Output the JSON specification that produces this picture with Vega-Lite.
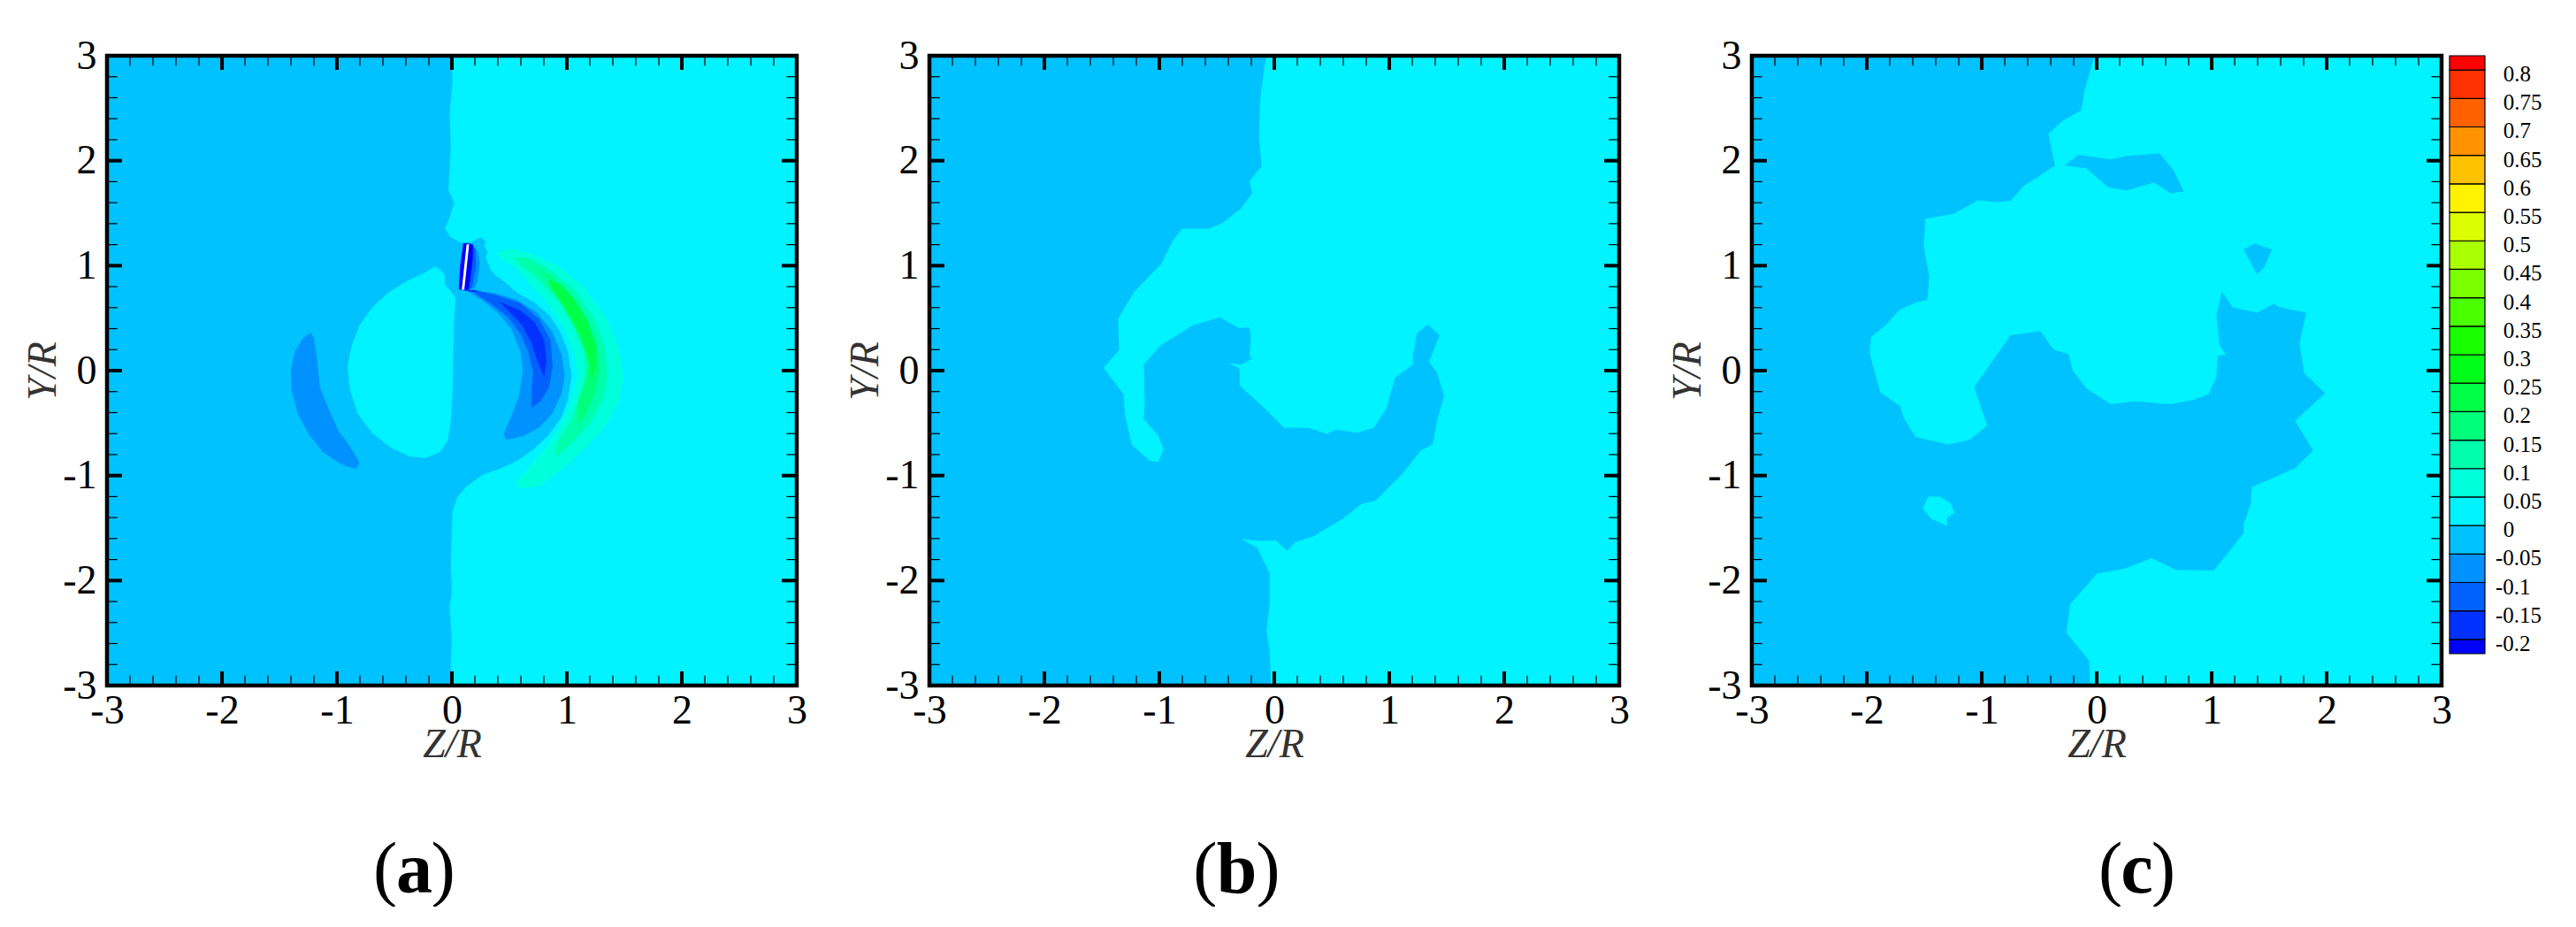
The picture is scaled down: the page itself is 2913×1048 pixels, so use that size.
{
  "$schema": "https://vega.github.io/schema/vega-lite/v6.json",
  "background": "white",
  "padding": {"left": 25, "top": 40, "right": 0, "bottom": 0},
  "datasets": {
    "ticks": [
      {"k":"M","z":-2,"z2":-2,"y":-3,"y2":-2.865},{"k":"M","z":-1,"z2":-1,"y":-3,"y2":-2.865},{"k":"M","z":0,"z2":0,"y":-3,"y2":-2.865},{"k":"M","z":1,"z2":1,"y":-3,"y2":-2.865},{"k":"M","z":2,"z2":2,"y":-3,"y2":-2.865},
      {"k":"M","z":-2,"z2":-2,"y":3,"y2":2.865},{"k":"M","z":-1,"z2":-1,"y":3,"y2":2.865},{"k":"M","z":0,"z2":0,"y":3,"y2":2.865},{"k":"M","z":1,"z2":1,"y":3,"y2":2.865},{"k":"M","z":2,"z2":2,"y":3,"y2":2.865},
      {"k":"M","y":-2,"y2":-2,"z":-3,"z2":-2.87},{"k":"M","y":-1,"y2":-1,"z":-3,"z2":-2.87},{"k":"M","y":0,"y2":0,"z":-3,"z2":-2.87},{"k":"M","y":1,"y2":1,"z":-3,"z2":-2.87},{"k":"M","y":2,"y2":2,"z":-3,"z2":-2.87},
      {"k":"M","y":-2,"y2":-2,"z":3,"z2":2.87},{"k":"M","y":-1,"y2":-1,"z":3,"z2":2.87},{"k":"M","y":0,"y2":0,"z":3,"z2":2.87},{"k":"M","y":1,"y2":1,"z":3,"z2":2.87},{"k":"M","y":2,"y2":2,"z":3,"z2":2.87},
      {"k":"m","z":-2.8,"z2":-2.8,"y":-3,"y2":-2.905},{"k":"m","z":-2.6,"z2":-2.6,"y":-3,"y2":-2.905},{"k":"m","z":-2.4,"z2":-2.4,"y":-3,"y2":-2.905},{"k":"m","z":-2.2,"z2":-2.2,"y":-3,"y2":-2.905},{"k":"m","z":-1.8,"z2":-1.8,"y":-3,"y2":-2.905},{"k":"m","z":-1.6,"z2":-1.6,"y":-3,"y2":-2.905},{"k":"m","z":-1.4,"z2":-1.4,"y":-3,"y2":-2.905},{"k":"m","z":-1.2,"z2":-1.2,"y":-3,"y2":-2.905},{"k":"m","z":-0.8,"z2":-0.8,"y":-3,"y2":-2.905},{"k":"m","z":-0.6,"z2":-0.6,"y":-3,"y2":-2.905},{"k":"m","z":-0.4,"z2":-0.4,"y":-3,"y2":-2.905},{"k":"m","z":-0.2,"z2":-0.2,"y":-3,"y2":-2.905},
      {"k":"m","z":0.2,"z2":0.2,"y":-3,"y2":-2.905},{"k":"m","z":0.4,"z2":0.4,"y":-3,"y2":-2.905},{"k":"m","z":0.6,"z2":0.6,"y":-3,"y2":-2.905},{"k":"m","z":0.8,"z2":0.8,"y":-3,"y2":-2.905},{"k":"m","z":1.2,"z2":1.2,"y":-3,"y2":-2.905},{"k":"m","z":1.4,"z2":1.4,"y":-3,"y2":-2.905},{"k":"m","z":1.6,"z2":1.6,"y":-3,"y2":-2.905},{"k":"m","z":1.8,"z2":1.8,"y":-3,"y2":-2.905},{"k":"m","z":2.2,"z2":2.2,"y":-3,"y2":-2.905},{"k":"m","z":2.4,"z2":2.4,"y":-3,"y2":-2.905},{"k":"m","z":2.6,"z2":2.6,"y":-3,"y2":-2.905},{"k":"m","z":2.8,"z2":2.8,"y":-3,"y2":-2.905},
      {"k":"m","z":-2.8,"z2":-2.8,"y":3,"y2":2.905},{"k":"m","z":-2.6,"z2":-2.6,"y":3,"y2":2.905},{"k":"m","z":-2.4,"z2":-2.4,"y":3,"y2":2.905},{"k":"m","z":-2.2,"z2":-2.2,"y":3,"y2":2.905},{"k":"m","z":-1.8,"z2":-1.8,"y":3,"y2":2.905},{"k":"m","z":-1.6,"z2":-1.6,"y":3,"y2":2.905},{"k":"m","z":-1.4,"z2":-1.4,"y":3,"y2":2.905},{"k":"m","z":-1.2,"z2":-1.2,"y":3,"y2":2.905},{"k":"m","z":-0.8,"z2":-0.8,"y":3,"y2":2.905},{"k":"m","z":-0.6,"z2":-0.6,"y":3,"y2":2.905},{"k":"m","z":-0.4,"z2":-0.4,"y":3,"y2":2.905},{"k":"m","z":-0.2,"z2":-0.2,"y":3,"y2":2.905},
      {"k":"m","z":0.2,"z2":0.2,"y":3,"y2":2.905},{"k":"m","z":0.4,"z2":0.4,"y":3,"y2":2.905},{"k":"m","z":0.6,"z2":0.6,"y":3,"y2":2.905},{"k":"m","z":0.8,"z2":0.8,"y":3,"y2":2.905},{"k":"m","z":1.2,"z2":1.2,"y":3,"y2":2.905},{"k":"m","z":1.4,"z2":1.4,"y":3,"y2":2.905},{"k":"m","z":1.6,"z2":1.6,"y":3,"y2":2.905},{"k":"m","z":1.8,"z2":1.8,"y":3,"y2":2.905},{"k":"m","z":2.2,"z2":2.2,"y":3,"y2":2.905},{"k":"m","z":2.4,"z2":2.4,"y":3,"y2":2.905},{"k":"m","z":2.6,"z2":2.6,"y":3,"y2":2.905},{"k":"m","z":2.8,"z2":2.8,"y":3,"y2":2.905},
      {"k":"m","y":-2.8,"y2":-2.8,"z":-3,"z2":-2.91},{"k":"m","y":-2.6,"y2":-2.6,"z":-3,"z2":-2.91},{"k":"m","y":-2.4,"y2":-2.4,"z":-3,"z2":-2.91},{"k":"m","y":-2.2,"y2":-2.2,"z":-3,"z2":-2.91},{"k":"m","y":-1.8,"y2":-1.8,"z":-3,"z2":-2.91},{"k":"m","y":-1.6,"y2":-1.6,"z":-3,"z2":-2.91},{"k":"m","y":-1.4,"y2":-1.4,"z":-3,"z2":-2.91},{"k":"m","y":-1.2,"y2":-1.2,"z":-3,"z2":-2.91},{"k":"m","y":-0.8,"y2":-0.8,"z":-3,"z2":-2.91},{"k":"m","y":-0.6,"y2":-0.6,"z":-3,"z2":-2.91},{"k":"m","y":-0.4,"y2":-0.4,"z":-3,"z2":-2.91},{"k":"m","y":-0.2,"y2":-0.2,"z":-3,"z2":-2.91},
      {"k":"m","y":0.2,"y2":0.2,"z":-3,"z2":-2.91},{"k":"m","y":0.4,"y2":0.4,"z":-3,"z2":-2.91},{"k":"m","y":0.6,"y2":0.6,"z":-3,"z2":-2.91},{"k":"m","y":0.8,"y2":0.8,"z":-3,"z2":-2.91},{"k":"m","y":1.2,"y2":1.2,"z":-3,"z2":-2.91},{"k":"m","y":1.4,"y2":1.4,"z":-3,"z2":-2.91},{"k":"m","y":1.6,"y2":1.6,"z":-3,"z2":-2.91},{"k":"m","y":1.8,"y2":1.8,"z":-3,"z2":-2.91},{"k":"m","y":2.2,"y2":2.2,"z":-3,"z2":-2.91},{"k":"m","y":2.4,"y2":2.4,"z":-3,"z2":-2.91},{"k":"m","y":2.6,"y2":2.6,"z":-3,"z2":-2.91},{"k":"m","y":2.8,"y2":2.8,"z":-3,"z2":-2.91},
      {"k":"m","y":-2.8,"y2":-2.8,"z":3,"z2":2.91},{"k":"m","y":-2.6,"y2":-2.6,"z":3,"z2":2.91},{"k":"m","y":-2.4,"y2":-2.4,"z":3,"z2":2.91},{"k":"m","y":-2.2,"y2":-2.2,"z":3,"z2":2.91},{"k":"m","y":-1.8,"y2":-1.8,"z":3,"z2":2.91},{"k":"m","y":-1.6,"y2":-1.6,"z":3,"z2":2.91},{"k":"m","y":-1.4,"y2":-1.4,"z":3,"z2":2.91},{"k":"m","y":-1.2,"y2":-1.2,"z":3,"z2":2.91},{"k":"m","y":-0.8,"y2":-0.8,"z":3,"z2":2.91},{"k":"m","y":-0.6,"y2":-0.6,"z":3,"z2":2.91},{"k":"m","y":-0.4,"y2":-0.4,"z":3,"z2":2.91},{"k":"m","y":-0.2,"y2":-0.2,"z":3,"z2":2.91},
      {"k":"m","y":0.2,"y2":0.2,"z":3,"z2":2.91},{"k":"m","y":0.4,"y2":0.4,"z":3,"z2":2.91},{"k":"m","y":0.6,"y2":0.6,"z":3,"z2":2.91},{"k":"m","y":0.8,"y2":0.8,"z":3,"z2":2.91},{"k":"m","y":1.2,"y2":1.2,"z":3,"z2":2.91},{"k":"m","y":1.4,"y2":1.4,"z":3,"z2":2.91},{"k":"m","y":1.6,"y2":1.6,"z":3,"z2":2.91},{"k":"m","y":1.8,"y2":1.8,"z":3,"z2":2.91},{"k":"m","y":2.2,"y2":2.2,"z":3,"z2":2.91},{"k":"m","y":2.4,"y2":2.4,"z":3,"z2":2.91},{"k":"m","y":2.6,"y2":2.6,"z":3,"z2":2.91},{"k":"m","y":2.8,"y2":2.8,"z":3,"z2":2.91}
    ],
    "panelA": [
      {"s":"bg","b":4,"z":-3,"y":-3},{"s":"bg","b":4,"z":-3,"y":3},{"s":"bg","b":4,"z":3,"y":3},{"s":"bg","b":4,"z":3,"y":-3},
      {"s":"right","b":5,"z":0,"y":3},{"s":"right","b":5,"z":0.005,"y":2.73},{"s":"right","b":5,"z":-0.02,"y":2.45},{"s":"right","b":5,"z":-0.01,"y":2.11},{"s":"right","b":5,"z":-0.03,"y":1.72},{"s":"right","b":5,"z":0.02,"y":1.6},{"s":"right","b":5,"z":-0.02,"y":1.46},{"s":"right","b":5,"z":-0.06,"y":1.35},{"s":"right","b":5,"z":-0.01,"y":1.27},{"s":"right","b":5,"z":0.08,"y":1.22},{"s":"right","b":5,"z":0.16,"y":1.22},{"s":"right","b":5,"z":0.25,"y":1.27},{"s":"right","b":5,"z":0.295,"y":1.23},{"s":"right","b":5,"z":0.28,"y":1.19},{"s":"right","b":5,"z":0.31,"y":1.13},{"s":"right","b":5,"z":0.295,"y":1.08},{"s":"right","b":5,"z":0.335,"y":0.965},{"s":"right","b":5,"z":0.375,"y":0.91},{"s":"right","b":5,"z":0.43,"y":0.87},{"s":"right","b":5,"z":0.57,"y":0.74},{"s":"right","b":5,"z":0.71,"y":0.656},{"s":"right","b":5,"z":0.845,"y":0.53},{"s":"right","b":5,"z":0.94,"y":0.375},{"s":"right","b":5,"z":1.01,"y":0.18},{"s":"right","b":5,"z":1.04,"y":-0.05},{"s":"right","b":5,"z":1.01,"y":-0.27},{"s":"right","b":5,"z":0.955,"y":-0.44},{"s":"right","b":5,"z":0.845,"y":-0.61},{"s":"right","b":5,"z":0.71,"y":-0.75},{"s":"right","b":5,"z":0.57,"y":-0.86},{"s":"right","b":5,"z":0.43,"y":-0.93},{"s":"right","b":5,"z":0.27,"y":-0.99},{"s":"right","b":5,"z":0.13,"y":-1.1},{"s":"right","b":5,"z":0.05,"y":-1.2},{"s":"right","b":5,"z":0.005,"y":-1.34},{"s":"right","b":5,"z":0,"y":-1.54},{"s":"right","b":5,"z":-0.01,"y":-1.83},{"s":"right","b":5,"z":0,"y":-2.11},{"s":"right","b":5,"z":-0.02,"y":-2.25},{"s":"right","b":5,"z":0,"y":-2.56},{"s":"right","b":5,"z":-0.01,"y":-2.79},{"s":"right","b":5,"z":0,"y":-3},{"s":"right","b":5,"z":3,"y":-3},{"s":"right","b":5,"z":3,"y":3},
      {"s":"disk","b":5,"z":-0.145,"y":0.993},{"s":"disk","b":5,"z":-0.227,"y":0.937},{"s":"disk","b":5,"z":-0.392,"y":0.853},{"s":"disk","b":5,"z":-0.557,"y":0.74},{"s":"disk","b":5,"z":-0.694,"y":0.6},{"s":"disk","b":5,"z":-0.804,"y":0.431},{"s":"disk","b":5,"z":-0.873,"y":0.234},{"s":"disk","b":5,"z":-0.908,"y":0.038},{"s":"disk","b":5,"z":-0.886,"y":-0.187},{"s":"disk","b":5,"z":-0.818,"y":-0.412},{"s":"disk","b":5,"z":-0.694,"y":-0.594},{"s":"disk","b":5,"z":-0.529,"y":-0.735},{"s":"disk","b":5,"z":-0.364,"y":-0.82},{"s":"disk","b":5,"z":-0.227,"y":-0.833},{"s":"disk","b":5,"z":-0.103,"y":-0.777},{"s":"disk","b":5,"z":-0.035,"y":-0.665},{"s":"disk","b":5,"z":-0.007,"y":-0.468},{"s":"disk","b":5,"z":0.007,"y":-0.187},{"s":"disk","b":5,"z":0.015,"y":0.234},{"s":"disk","b":5,"z":0.02,"y":0.515},{"s":"disk","b":5,"z":0.034,"y":0.684},{"s":"disk","b":5,"z":-0.007,"y":0.755},{"s":"disk","b":5,"z":-0.057,"y":0.811},{"s":"disk","b":5,"z":-0.062,"y":0.909},{"s":"disk","b":5,"z":-0.09,"y":0.951},
      {"s":"leftc","b":3,"z":-1.23,"y":0.361},{"s":"leftc","b":3,"z":-1.298,"y":0.305},{"s":"leftc","b":3,"z":-1.367,"y":0.178},{"s":"leftc","b":3,"z":-1.4,"y":0.01},{"s":"leftc","b":3,"z":-1.395,"y":-0.187},{"s":"leftc","b":3,"z":-1.34,"y":-0.412},{"s":"leftc","b":3,"z":-1.243,"y":-0.609},{"s":"leftc","b":3,"z":-1.12,"y":-0.777},{"s":"leftc","b":3,"z":-0.969,"y":-0.89},{"s":"leftc","b":3,"z":-0.831,"y":-0.94},{"s":"leftc","b":3,"z":-0.804,"y":-0.875},{"s":"leftc","b":3,"z":-0.886,"y":-0.721},{"s":"leftc","b":3,"z":-0.982,"y":-0.581},{"s":"leftc","b":3,"z":-1.065,"y":-0.384},{"s":"leftc","b":3,"z":-1.147,"y":-0.159},{"s":"leftc","b":3,"z":-1.175,"y":0.122},{"s":"leftc","b":3,"z":-1.202,"y":0.319},
      {"s":"blue1","b":3,"z":0.158,"y":0.763},{"s":"blue1","b":3,"z":0.377,"y":0.74},{"s":"blue1","b":3,"z":0.57,"y":0.67},{"s":"blue1","b":3,"z":0.735,"y":0.558},{"s":"blue1","b":3,"z":0.872,"y":0.375},{"s":"blue1","b":3,"z":0.955,"y":0.15},{"s":"blue1","b":3,"z":0.982,"y":-0.047},{"s":"blue1","b":3,"z":0.955,"y":-0.215},{"s":"blue1","b":3,"z":0.872,"y":-0.412},{"s":"blue1","b":3,"z":0.762,"y":-0.539},{"s":"blue1","b":3,"z":0.625,"y":-0.623},{"s":"blue1","b":3,"z":0.474,"y":-0.659},{"s":"blue1","b":3,"z":0.449,"y":-0.609},{"s":"blue1","b":3,"z":0.515,"y":-0.44},{"s":"blue1","b":3,"z":0.584,"y":-0.243},{"s":"blue1","b":3,"z":0.619,"y":0.01},{"s":"blue1","b":3,"z":0.597,"y":0.178},{"s":"blue1","b":3,"z":0.515,"y":0.403},{"s":"blue1","b":3,"z":0.405,"y":0.543},{"s":"blue1","b":3,"z":0.267,"y":0.67},{"s":"blue1","b":3,"z":0.13,"y":0.754},
      {"s":"blue2","b":2,"z":0.185,"y":0.774},{"s":"blue2","b":2,"z":0.405,"y":0.712},{"s":"blue2","b":2,"z":0.597,"y":0.642},{"s":"blue2","b":2,"z":0.762,"y":0.487},{"s":"blue2","b":2,"z":0.858,"y":0.29},{"s":"blue2","b":2,"z":0.877,"y":0.038},{"s":"blue2","b":2,"z":0.845,"y":-0.159},{"s":"blue2","b":2,"z":0.776,"y":-0.286},{"s":"blue2","b":2,"z":0.694,"y":-0.356},{"s":"blue2","b":2,"z":0.694,"y":-0.187},{"s":"blue2","b":2,"z":0.707,"y":-0.018},{"s":"blue2","b":2,"z":0.666,"y":0.178},{"s":"blue2","b":2,"z":0.597,"y":0.347},{"s":"blue2","b":2,"z":0.487,"y":0.515},{"s":"blue2","b":2,"z":0.35,"y":0.628},{"s":"blue2","b":2,"z":0.213,"y":0.726},
      {"s":"blue3","b":1,"z":0.405,"y":0.662},{"s":"blue3","b":1,"z":0.597,"y":0.572},{"s":"blue3","b":1,"z":0.721,"y":0.459},{"s":"blue3","b":1,"z":0.803,"y":0.29},{"s":"blue3","b":1,"z":0.823,"y":0.094},{"s":"blue3","b":1,"z":0.803,"y":-0.061},{"s":"blue3","b":1,"z":0.748,"y":0.08},{"s":"blue3","b":1,"z":0.694,"y":0.262},{"s":"blue3","b":1,"z":0.611,"y":0.431},{"s":"blue3","b":1,"z":0.515,"y":0.543},
      {"s":"green1","b":6,"z":0.377,"y":1.12},{"s":"green1","b":6,"z":0.515,"y":1.162},{"s":"green1","b":6,"z":0.707,"y":1.106},{"s":"green1","b":6,"z":0.927,"y":0.994},{"s":"green1","b":6,"z":1.147,"y":0.797},{"s":"green1","b":6,"z":1.339,"y":0.515},{"s":"green1","b":6,"z":1.463,"y":0.178},{"s":"green1","b":6,"z":1.49,"y":-0.075},{"s":"green1","b":6,"z":1.449,"y":-0.3},{"s":"green1","b":6,"z":1.339,"y":-0.525},{"s":"green1","b":6,"z":1.174,"y":-0.721},{"s":"green1","b":6,"z":0.982,"y":-0.918},{"s":"green1","b":6,"z":0.762,"y":-1.1},{"s":"green1","b":6,"z":0.597,"y":-1.128},{"s":"green1","b":6,"z":0.556,"y":-1.072},{"s":"green1","b":6,"z":0.652,"y":-0.946},{"s":"green1","b":6,"z":0.79,"y":-0.777},{"s":"green1","b":6,"z":0.927,"y":-0.553},{"s":"green1","b":6,"z":1.037,"y":-0.3},{"s":"green1","b":6,"z":1.092,"y":-0.047},{"s":"green1","b":6,"z":1.064,"y":0.178},{"s":"green1","b":6,"z":0.982,"y":0.403},{"s":"green1","b":6,"z":0.845,"y":0.628},{"s":"green1","b":6,"z":0.707,"y":0.797},{"s":"green1","b":6,"z":0.57,"y":0.965},{"s":"green1","b":6,"z":0.46,"y":1.05},
      {"s":"green2","b":7,"z":0.529,"y":1.078},{"s":"green2","b":7,"z":0.652,"y":1.078},{"s":"green2","b":7,"z":0.845,"y":0.965},{"s":"green2","b":7,"z":1.064,"y":0.768},{"s":"green2","b":7,"z":1.229,"y":0.515},{"s":"green2","b":7,"z":1.325,"y":0.234},{"s":"green2","b":7,"z":1.353,"y":-0.047},{"s":"green2","b":7,"z":1.312,"y":-0.272},{"s":"green2","b":7,"z":1.202,"y":-0.496},{"s":"green2","b":7,"z":1.064,"y":-0.665},{"s":"green2","b":7,"z":0.899,"y":-0.833},{"s":"green2","b":7,"z":0.913,"y":-0.693},{"s":"green2","b":7,"z":1.037,"y":-0.468},{"s":"green2","b":7,"z":1.119,"y":-0.243},{"s":"green2","b":7,"z":1.161,"y":-0.047},{"s":"green2","b":7,"z":1.147,"y":0.178},{"s":"green2","b":7,"z":1.064,"y":0.403},{"s":"green2","b":7,"z":0.927,"y":0.656},{"s":"green2","b":7,"z":0.762,"y":0.853},{"s":"green2","b":7,"z":0.625,"y":0.979},
      {"s":"green3","b":8,"z":0.666,"y":1.007},{"s":"green3","b":8,"z":0.845,"y":0.909},{"s":"green3","b":8,"z":1.009,"y":0.74},{"s":"green3","b":8,"z":1.174,"y":0.487},{"s":"green3","b":8,"z":1.27,"y":0.234},{"s":"green3","b":8,"z":1.284,"y":-0.018},{"s":"green3","b":8,"z":1.243,"y":-0.215},{"s":"green3","b":8,"z":1.147,"y":-0.44},{"s":"green3","b":8,"z":1.098,"y":-0.51},{"s":"green3","b":8,"z":1.092,"y":-0.3},{"s":"green3","b":8,"z":1.147,"y":-0.131},{"s":"green3","b":8,"z":1.188,"y":0.038},{"s":"green3","b":8,"z":1.175,"y":0.2},{"s":"green3","b":8,"z":1.119,"y":0.37},{"s":"green3","b":8,"z":1.02,"y":0.6},{"s":"green3","b":8,"z":0.9,"y":0.8},{"s":"green3","b":8,"z":0.78,"y":0.93},
      {"s":"green4","b":9,"z":0.831,"y":0.867},{"s":"green4","b":9,"z":0.94,"y":0.825},{"s":"green4","b":9,"z":1.064,"y":0.684},{"s":"green4","b":9,"z":1.174,"y":0.487},{"s":"green4","b":9,"z":1.243,"y":0.262},{"s":"green4","b":9,"z":1.257,"y":0.066},{"s":"green4","b":9,"z":1.215,"y":-0.097},{"s":"green4","b":9,"z":1.188,"y":0.094},{"s":"green4","b":9,"z":1.119,"y":0.319},{"s":"green4","b":9,"z":0.982,"y":0.6},{"s":"green4","b":9,"z":0.858,"y":0.797},
      {"s":"halo1","b":3,"z":0.158,"y":1.222},{"s":"halo1","b":3,"z":0.228,"y":1.134},{"s":"halo1","b":3,"z":0.244,"y":1.021},{"s":"halo1","b":3,"z":0.223,"y":0.853},{"s":"halo1","b":3,"z":0.2,"y":0.783},{"s":"halo1","b":3,"z":0.061,"y":0.763},{"s":"halo1","b":3,"z":0.07,"y":1.021},{"s":"halo1","b":3,"z":0.103,"y":1.204},
      {"s":"halo2","b":2,"z":0.13,"y":1.218},{"s":"halo2","b":2,"z":0.205,"y":1.168},{"s":"halo2","b":2,"z":0.21,"y":0.994},{"s":"halo2","b":2,"z":0.175,"y":0.783},{"s":"halo2","b":2,"z":0.07,"y":0.769},{"s":"halo2","b":2,"z":0.081,"y":1.021},{"s":"halo2","b":2,"z":0.097,"y":1.204},
      {"s":"tail","b":1,"z":0.103,"y":0.78},{"s":"tail","b":1,"z":0.213,"y":0.763},{"s":"tail","b":1,"z":0.213,"y":0.746},{"s":"tail","b":1,"z":0.103,"y":0.763},
      {"s":"dark","b":0,"z":0.1,"y":1.215},{"s":"dark","b":0,"z":0.185,"y":1.2},{"s":"dark","b":0,"z":0.18,"y":1.05},{"s":"dark","b":0,"z":0.148,"y":0.774},{"s":"dark","b":0,"z":0.06,"y":0.777},{"s":"dark","b":0,"z":0.072,"y":0.993},
      {"s":"blade","b":22,"z":0.128,"y":1.204},{"s":"blade","b":22,"z":0.15,"y":1.204},{"s":"blade","b":22,"z":0.108,"y":0.774},{"s":"blade","b":22,"z":0.086,"y":0.774}
    ],
    "panelB": [
      {"s":"bg","b":4,"z":-3,"y":-3},{"s":"bg","b":4,"z":-3,"y":3},{"s":"bg","b":4,"z":3,"y":3},{"s":"bg","b":4,"z":3,"y":-3},
      {"s":"right","b":5,"z":-0.068,"y":3},{"s":"right","b":5,"z":-0.086,"y":2.9},{"s":"right","b":5,"z":-0.124,"y":2.563},{"s":"right","b":5,"z":-0.133,"y":2.225},{"s":"right","b":5,"z":-0.11,"y":1.944},{"s":"right","b":5,"z":-0.217,"y":1.803},{"s":"right","b":5,"z":-0.193,"y":1.69},{"s":"right","b":5,"z":-0.287,"y":1.549},{"s":"right","b":5,"z":-0.45,"y":1.408},{"s":"right","b":5,"z":-0.566,"y":1.352},{"s":"right","b":5,"z":-0.8,"y":1.352},{"s":"right","b":5,"z":-0.883,"y":1.239},{"s":"right","b":5,"z":-0.986,"y":1.014},{"s":"right","b":5,"z":-1.219,"y":0.749},{"s":"right","b":5,"z":-1.359,"y":0.496},{"s":"right","b":5,"z":-1.35,"y":0.197},{"s":"right","b":5,"z":-1.485,"y":0.028},{"s":"right","b":5,"z":-1.312,"y":-0.225},{"s":"right","b":5,"z":-1.298,"y":-0.423},{"s":"right","b":5,"z":-1.242,"y":-0.704},{"s":"right","b":5,"z":-1.079,"y":-0.862},{"s":"right","b":5,"z":-1.009,"y":-0.873},{"s":"right","b":5,"z":-0.963,"y":-0.749},{"s":"right","b":5,"z":-1.009,"y":-0.62},{"s":"right","b":5,"z":-1.135,"y":-0.462},{"s":"right","b":5,"z":-1.126,"y":-0.31},{"s":"right","b":5,"z":-1.135,"y":0.056},{"s":"right","b":5,"z":-0.986,"y":0.242},{"s":"right","b":5,"z":-0.706,"y":0.434},{"s":"right","b":5,"z":-0.473,"y":0.507},{"s":"right","b":5,"z":-0.31,"y":0.406},{"s":"right","b":5,"z":-0.217,"y":0.411},{"s":"right","b":5,"z":-0.203,"y":0.31},{"s":"right","b":5,"z":-0.217,"y":0.141},{"s":"right","b":5,"z":-0.193,"y":0.113},{"s":"right","b":5,"z":-0.287,"y":0.056},{"s":"right","b":5,"z":-0.394,"y":0.073},{"s":"right","b":5,"z":-0.301,"y":0.017},{"s":"right","b":5,"z":-0.301,"y":-0.141},{"s":"right","b":5,"z":-0.077,"y":-0.366},{"s":"right","b":5,"z":0.086,"y":-0.546},{"s":"right","b":5,"z":0.296,"y":-0.546},{"s":"right","b":5,"z":0.459,"y":-0.603},{"s":"right","b":5,"z":0.538,"y":-0.563},{"s":"right","b":5,"z":0.716,"y":-0.592},{"s":"right","b":5,"z":0.865,"y":-0.546},{"s":"right","b":5,"z":0.972,"y":-0.366},{"s":"right","b":5,"z":1.051,"y":-0.068},{"s":"right","b":5,"z":1.205,"y":0.056},{"s":"right","b":5,"z":1.205,"y":0.141},{"s":"right","b":5,"z":1.242,"y":0.355},{"s":"right","b":5,"z":1.336,"y":0.439},{"s":"right","b":5,"z":1.438,"y":0.338},{"s":"right","b":5,"z":1.345,"y":0.085},{"s":"right","b":5,"z":1.415,"y":-0.017},{"s":"right","b":5,"z":1.476,"y":-0.242},{"s":"right","b":5,"z":1.415,"y":-0.479},{"s":"right","b":5,"z":1.378,"y":-0.704},{"s":"right","b":5,"z":1.275,"y":-0.761},{"s":"right","b":5,"z":1.112,"y":-0.986},{"s":"right","b":5,"z":0.879,"y":-1.239},{"s":"right","b":5,"z":0.762,"y":-1.268},{"s":"right","b":5,"z":0.599,"y":-1.408},{"s":"right","b":5,"z":0.343,"y":-1.577},{"s":"right","b":5,"z":0.179,"y":-1.634},{"s":"right","b":5,"z":0.11,"y":-1.718},{"s":"right","b":5,"z":0.016,"y":-1.617},{"s":"right","b":5,"z":-0.124,"y":-1.623},{"s":"right","b":5,"z":-0.287,"y":-1.606},{"s":"right","b":5,"z":-0.147,"y":-1.69},{"s":"right","b":5,"z":-0.04,"y":-1.932},{"s":"right","b":5,"z":-0.04,"y":-2.225},{"s":"right","b":5,"z":-0.068,"y":-2.479},{"s":"right","b":5,"z":-0.04,"y":-2.676},{"s":"right","b":5,"z":-0.03,"y":-3},{"s":"right","b":5,"z":3,"y":-3},{"s":"right","b":5,"z":3,"y":3}
    ],
    "panelC": [
      {"s":"bg","b":4,"z":-3,"y":-3},{"s":"bg","b":4,"z":-3,"y":3},{"s":"bg","b":4,"z":3,"y":3},{"s":"bg","b":4,"z":3,"y":-3},
      {"s":"right","b":5,"z":-0.019,"y":3},{"s":"right","b":5,"z":-0.104,"y":2.676},{"s":"right","b":5,"z":-0.137,"y":2.479},{"s":"right","b":5,"z":-0.302,"y":2.377},{"s":"right","b":5,"z":-0.42,"y":2.254},{"s":"right","b":5,"z":-0.363,"y":1.955},{"s":"right","b":5,"z":-0.514,"y":1.842},{"s":"right","b":5,"z":-0.632,"y":1.763},{"s":"right","b":5,"z":-0.75,"y":1.617},{"s":"right","b":5,"z":-0.868,"y":1.606},{"s":"right","b":5,"z":-1.033,"y":1.623},{"s":"right","b":5,"z":-1.245,"y":1.493},{"s":"right","b":5,"z":-1.491,"y":1.448},{"s":"right","b":5,"z":-1.505,"y":1.183},{"s":"right","b":5,"z":-1.458,"y":0.901},{"s":"right","b":5,"z":-1.472,"y":0.676},{"s":"right","b":5,"z":-1.575,"y":0.648},{"s":"right","b":5,"z":-1.717,"y":0.58},{"s":"right","b":5,"z":-1.835,"y":0.434},{"s":"right","b":5,"z":-1.962,"y":0.321},{"s":"right","b":5,"z":-1.976,"y":0.169},{"s":"right","b":5,"z":-1.882,"y":-0.208},{"s":"right","b":5,"z":-1.708,"y":-0.338},{"s":"right","b":5,"z":-1.679,"y":-0.451},{"s":"right","b":5,"z":-1.575,"y":-0.631},{"s":"right","b":5,"z":-1.292,"y":-0.704},{"s":"right","b":5,"z":-1.104,"y":-0.659},{"s":"right","b":5,"z":-0.953,"y":-0.524},{"s":"right","b":5,"z":-1.066,"y":-0.158},{"s":"right","b":5,"z":-0.75,"y":0.338},{"s":"right","b":5,"z":-0.491,"y":0.377},{"s":"right","b":5,"z":-0.373,"y":0.197},{"s":"right","b":5,"z":-0.245,"y":0.158},{"s":"right","b":5,"z":-0.208,"y":0},{"s":"right","b":5,"z":-0.09,"y":-0.169},{"s":"right","b":5,"z":0.123,"y":-0.321},{"s":"right","b":5,"z":0.335,"y":-0.293},{"s":"right","b":5,"z":0.642,"y":-0.321},{"s":"right","b":5,"z":0.83,"y":-0.282},{"s":"right","b":5,"z":0.972,"y":-0.225},{"s":"right","b":5,"z":1.042,"y":-0.056},{"s":"right","b":5,"z":1.052,"y":0.141},{"s":"right","b":5,"z":1.123,"y":0.152},{"s":"right","b":5,"z":1.066,"y":0.254},{"s":"right","b":5,"z":1.042,"y":0.535},{"s":"right","b":5,"z":1.09,"y":0.749},{"s":"right","b":5,"z":1.184,"y":0.603},{"s":"right","b":5,"z":1.396,"y":0.552},{"s":"right","b":5,"z":1.538,"y":0.637},{"s":"right","b":5,"z":1.594,"y":0.603},{"s":"right","b":5,"z":1.821,"y":0.552},{"s":"right","b":5,"z":1.764,"y":0.254},{"s":"right","b":5,"z":1.807,"y":-0.028},{"s":"right","b":5,"z":1.986,"y":-0.214},{"s":"right","b":5,"z":1.726,"y":-0.479},{"s":"right","b":5,"z":1.882,"y":-0.761},{"s":"right","b":5,"z":1.726,"y":-0.93},{"s":"right","b":5,"z":1.349,"y":-1.11},{"s":"right","b":5,"z":1.34,"y":-1.268},{"s":"right","b":5,"z":1.278,"y":-1.465},{"s":"right","b":5,"z":1.278,"y":-1.549},{"s":"right","b":5,"z":1.019,"y":-1.904},{"s":"right","b":5,"z":0.689,"y":-1.899},{"s":"right","b":5,"z":0.476,"y":-1.786},{"s":"right","b":5,"z":0.241,"y":-1.887},{"s":"right","b":5,"z":0.005,"y":-1.932},{"s":"right","b":5,"z":-0.231,"y":-2.225},{"s":"right","b":5,"z":-0.264,"y":-2.496},{"s":"right","b":5,"z":-0.066,"y":-2.761},{"s":"right","b":5,"z":-0.057,"y":-3},{"s":"right","b":5,"z":3,"y":-3},{"s":"right","b":5,"z":3,"y":3},
      {"s":"isl1","b":4,"z":-0.278,"y":1.955},{"s":"isl1","b":4,"z":-0.16,"y":2.056},{"s":"isl1","b":4,"z":0.123,"y":2.011},{"s":"isl1","b":4,"z":0.264,"y":2.045},{"s":"isl1","b":4,"z":0.547,"y":2.068},{"s":"isl1","b":4,"z":0.665,"y":1.915},{"s":"isl1","b":4,"z":0.759,"y":1.707},{"s":"isl1","b":4,"z":0.642,"y":1.69},{"s":"isl1","b":4,"z":0.5,"y":1.792},{"s":"isl1","b":4,"z":0.264,"y":1.718},{"s":"isl1","b":4,"z":0.099,"y":1.746},{"s":"isl1","b":4,"z":-0.09,"y":1.927},
      {"s":"isl2","b":4,"z":1.278,"y":1.155},{"s":"isl2","b":4,"z":1.373,"y":1.211},{"s":"isl2","b":4,"z":1.524,"y":1.155},{"s":"isl2","b":4,"z":1.458,"y":0.986},{"s":"isl2","b":4,"z":1.396,"y":0.918},
      {"s":"isl3","b":5,"z":-1.467,"y":-1.2},{"s":"isl3","b":5,"z":-1.363,"y":-1.2},{"s":"isl3","b":5,"z":-1.269,"y":-1.268},{"s":"isl3","b":5,"z":-1.236,"y":-1.352},{"s":"isl3","b":5,"z":-1.302,"y":-1.408},{"s":"isl3","b":5,"z":-1.302,"y":-1.482},{"s":"isl3","b":5,"z":-1.443,"y":-1.408},{"s":"isl3","b":5,"z":-1.514,"y":-1.313}
    ],
    "bands": [
      {"b":0,"lo":-0.225,"hi":-0.2},{"b":1,"lo":-0.2,"hi":-0.15},{"b":2,"lo":-0.15,"hi":-0.1},{"b":3,"lo":-0.1,"hi":-0.05},{"b":4,"lo":-0.05,"hi":0},{"b":5,"lo":0,"hi":0.05},{"b":6,"lo":0.05,"hi":0.1},{"b":7,"lo":0.1,"hi":0.15},{"b":8,"lo":0.15,"hi":0.2},{"b":9,"lo":0.2,"hi":0.25},{"b":10,"lo":0.25,"hi":0.3},{"b":11,"lo":0.3,"hi":0.35},{"b":12,"lo":0.35,"hi":0.4},{"b":13,"lo":0.4,"hi":0.45},{"b":14,"lo":0.45,"hi":0.5},{"b":15,"lo":0.5,"hi":0.55},{"b":16,"lo":0.55,"hi":0.6},{"b":17,"lo":0.6,"hi":0.65},{"b":18,"lo":0.65,"hi":0.7},{"b":19,"lo":0.7,"hi":0.75},{"b":20,"lo":0.75,"hi":0.8},{"b":21,"lo":0.8,"hi":0.825}
    ],
    "levels": [
      {"v":0.8,"t":"0.8"},{"v":0.75,"t":"0.75"},{"v":0.7,"t":"0.7"},{"v":0.65,"t":"0.65"},{"v":0.6,"t":"0.6"},{"v":0.55,"t":"0.55"},{"v":0.5,"t":"0.5"},{"v":0.45,"t":"0.45"},{"v":0.4,"t":"0.4"},{"v":0.35,"t":"0.35"},{"v":0.3,"t":"0.3"},{"v":0.25,"t":"0.25"},{"v":0.2,"t":"0.2"},{"v":0.15,"t":"0.15"},{"v":0.1,"t":"0.1"},{"v":0.05,"t":"0.05"},{"v":0,"t":"0"},{"v":-0.05,"t":"-0.05"},{"v":-0.1,"t":"-0.1"},{"v":-0.15,"t":"-0.15"},{"v":-0.2,"t":"-0.2"}
    ]
  },
  "spacing": 150,
  "bounds": "flush",
  "hconcat": [
    {
      "width": 780,
      "height": 712,
      "layer": [
        {
          "data": {"name": "panelA"},
          "mark": {"type": "line", "filled": true, "strokeWidth": 0},
          "encoding": {
            "x": {"field": "z", "type": "quantitative", "scale": {"domain": [-3, 3], "nice": false, "zero": false}, "axis": {"title": "Z/R", "values": [-3, -2, -1, 0, 1, 2, 3], "labelExpr": "'' + datum.value"}},
            "y": {"field": "y", "type": "quantitative", "scale": {"domain": [-3, 3], "nice": false, "zero": false}, "axis": {"title": "Y/R", "values": [-3, -2, -1, 0, 1, 2, 3], "labelExpr": "'' + datum.value"}},
            "color": {"field": "b", "type": "ordinal", "legend": null, "scale": {"domain": [0,1,2,3,4,5,6,7,8,9,10,11,12,13,14,15,16,17,18,19,20,21,22], "range": ["#0000ff","#0031ff","#0061ff","#0092ff","#00c2ff","#00f3ff","#00ffdb","#00ffaa","#00ff7a","#00ff49","#00ff18","#18ff00","#49ff00","#79ff00","#aaff00","#dbff00","#fff300","#ffc200","#ff9200","#ff6100","#ff3100","#ff0000","#ffffff"]}},
            "detail": {"field": "s"},
            "order": {"value": null}
          }
        },
        {
          "data": {"name": "ticks"},
          "mark": {"type": "rule", "color": "black"},
          "encoding": {
            "x": {"field": "z", "type": "quantitative"},
            "x2": {"field": "z2"},
            "y": {"field": "y", "type": "quantitative"},
            "y2": {"field": "y2"},
            "strokeWidth": {"field": "k", "type": "nominal", "legend": null, "scale": {"domain": ["M", "m"], "range": [4, 1.2]}}
          }
        },
        {
          "data": {"values": [{"name": "frame"}]},
          "mark": {"type": "rect", "filled": false, "stroke": "black", "strokeWidth": 4.5},
          "encoding": {"x": {"datum": -3}, "x2": {"datum": 3}, "y": {"datum": -3}, "y2": {"datum": 3}}
        },
        {
          "data": {"values": [{"t": "(", "z": -0.58}, {"t": ")", "z": -0.075}]},
          "mark": {"type": "text", "font": "Liberation Serif", "fontSize": 82, "baseline": "middle", "color": "black"},
          "encoding": {"x": {"field": "z", "type": "quantitative"}, "y": {"datum": -4.76}, "text": {"field": "t"}}
        },
        {
          "data": {"values": [{"t": "a", "z": -0.327}]},
          "mark": {"type": "text", "font": "Liberation Serif", "fontWeight": "bold", "fontSize": 82, "baseline": "middle", "color": "black"},
          "encoding": {"x": {"field": "z", "type": "quantitative"}, "y": {"datum": -4.76}, "text": {"field": "t"}}
        }
      ]
    },
    {
      "width": 780,
      "height": 712,
      "layer": [
        {
          "data": {"name": "panelB"},
          "mark": {"type": "line", "filled": true, "strokeWidth": 0},
          "encoding": {
            "x": {"field": "z", "type": "quantitative", "scale": {"domain": [-3, 3], "nice": false, "zero": false}, "axis": {"title": "Z/R", "values": [-3, -2, -1, 0, 1, 2, 3], "labelExpr": "'' + datum.value"}},
            "y": {"field": "y", "type": "quantitative", "scale": {"domain": [-3, 3], "nice": false, "zero": false}, "axis": {"title": "Y/R", "values": [-3, -2, -1, 0, 1, 2, 3], "labelExpr": "'' + datum.value"}},
            "color": {"field": "b", "type": "ordinal", "legend": null, "scale": {"domain": [0,1,2,3,4,5,6,7,8,9,10,11,12,13,14,15,16,17,18,19,20,21,22], "range": ["#0000ff","#0031ff","#0061ff","#0092ff","#00c2ff","#00f3ff","#00ffdb","#00ffaa","#00ff7a","#00ff49","#00ff18","#18ff00","#49ff00","#79ff00","#aaff00","#dbff00","#fff300","#ffc200","#ff9200","#ff6100","#ff3100","#ff0000","#ffffff"]}},
            "detail": {"field": "s"},
            "order": {"value": null}
          }
        },
        {
          "data": {"name": "ticks"},
          "mark": {"type": "rule", "color": "black"},
          "encoding": {
            "x": {"field": "z", "type": "quantitative"},
            "x2": {"field": "z2"},
            "y": {"field": "y", "type": "quantitative"},
            "y2": {"field": "y2"},
            "strokeWidth": {"field": "k", "type": "nominal", "legend": null, "scale": {"domain": ["M", "m"], "range": [4, 1.2]}}
          }
        },
        {
          "data": {"values": [{"name": "frame"}]},
          "mark": {"type": "rect", "filled": false, "stroke": "black", "strokeWidth": 4.5},
          "encoding": {"x": {"datum": -3}, "x2": {"datum": 3}, "y": {"datum": -3}, "y2": {"datum": 3}}
        },
        {
          "data": {"values": [{"t": "(", "z": -0.6}, {"t": ")", "z": -0.055}]},
          "mark": {"type": "text", "font": "Liberation Serif", "fontSize": 82, "baseline": "middle", "color": "black"},
          "encoding": {"x": {"field": "z", "type": "quantitative"}, "y": {"datum": -4.76}, "text": {"field": "t"}}
        },
        {
          "data": {"values": [{"t": "b", "z": -0.327}]},
          "mark": {"type": "text", "font": "Liberation Serif", "fontWeight": "bold", "fontSize": 82, "baseline": "middle", "color": "black"},
          "encoding": {"x": {"field": "z", "type": "quantitative"}, "y": {"datum": -4.76}, "text": {"field": "t"}}
        }
      ]
    },
    {
      "spacing": 9,
      "bounds": "flush",
      "hconcat": [
        {
          "width": 780,
          "height": 712,
          "layer": [
            {
              "data": {"name": "panelC"},
              "mark": {"type": "line", "filled": true, "strokeWidth": 0},
              "encoding": {
                "x": {"field": "z", "type": "quantitative", "scale": {"domain": [-3, 3], "nice": false, "zero": false}, "axis": {"title": "Z/R", "values": [-3, -2, -1, 0, 1, 2, 3], "labelExpr": "'' + datum.value"}},
                "y": {"field": "y", "type": "quantitative", "scale": {"domain": [-3, 3], "nice": false, "zero": false}, "axis": {"title": "Y/R", "values": [-3, -2, -1, 0, 1, 2, 3], "labelExpr": "'' + datum.value"}},
                "color": {"field": "b", "type": "ordinal", "legend": null, "scale": {"domain": [0,1,2,3,4,5,6,7,8,9,10,11,12,13,14,15,16,17,18,19,20,21,22], "range": ["#0000ff","#0031ff","#0061ff","#0092ff","#00c2ff","#00f3ff","#00ffdb","#00ffaa","#00ff7a","#00ff49","#00ff18","#18ff00","#49ff00","#79ff00","#aaff00","#dbff00","#fff300","#ffc200","#ff9200","#ff6100","#ff3100","#ff0000","#ffffff"]}},
                "detail": {"field": "s"},
                "order": {"value": null}
              }
            },
            {
              "data": {"name": "ticks"},
              "mark": {"type": "rule", "color": "black"},
              "encoding": {
                "x": {"field": "z", "type": "quantitative"},
                "x2": {"field": "z2"},
                "y": {"field": "y", "type": "quantitative"},
                "y2": {"field": "y2"},
                "strokeWidth": {"field": "k", "type": "nominal", "legend": null, "scale": {"domain": ["M", "m"], "range": [4, 1.2]}}
              }
            },
            {
              "data": {"values": [{"name": "frame"}]},
              "mark": {"type": "rect", "filled": false, "stroke": "black", "strokeWidth": 4.5},
              "encoding": {"x": {"datum": -3}, "x2": {"datum": 3}, "y": {"datum": -3}, "y2": {"datum": 3}}
            },
            {
              "data": {"values": [{"t": "(", "z": 0.12}, {"t": ")", "z": 0.58}]},
              "mark": {"type": "text", "font": "Liberation Serif", "fontSize": 82, "baseline": "middle", "color": "black"},
              "encoding": {"x": {"field": "z", "type": "quantitative"}, "y": {"datum": -4.76}, "text": {"field": "t"}}
            },
            {
              "data": {"values": [{"t": "c", "z": 0.35}]},
              "mark": {"type": "text", "font": "Liberation Serif", "fontWeight": "bold", "fontSize": 82, "baseline": "middle", "color": "black"},
              "encoding": {"x": {"field": "z", "type": "quantitative"}, "y": {"datum": -4.76}, "text": {"field": "t"}}
            }
          ]
        },
        {
          "width": 40,
          "height": 676,
          "layer": [
            {
              "data": {"name": "bands"},
              "mark": {"type": "rect", "stroke": "black", "strokeWidth": 1.2},
              "encoding": {
                "x": {"datum": 0, "scale": {"domain": [0, 1], "nice": false, "zero": false}, "axis": null},
                "x2": {"datum": 1},
                "y": {"field": "lo", "type": "quantitative", "scale": {"domain": [-0.225, 0.825], "nice": false, "zero": false}, "axis": null},
                "y2": {"field": "hi"},
                "color": {"field": "b", "type": "ordinal", "legend": null, "scale": {"domain": [0,1,2,3,4,5,6,7,8,9,10,11,12,13,14,15,16,17,18,19,20,21,22], "range": ["#0000ff","#0031ff","#0061ff","#0092ff","#00c2ff","#00f3ff","#00ffdb","#00ffaa","#00ff7a","#00ff49","#00ff18","#18ff00","#49ff00","#79ff00","#aaff00","#dbff00","#fff300","#ffc200","#ff9200","#ff6100","#ff3100","#ff0000","#ffffff"]}}
              }
            },
            {
              "data": {"name": "levels"},
              "transform": [{"filter": "datum.v >= 0"}],
              "mark": {"type": "text", "font": "Liberation Serif", "fontSize": 25, "align": "left", "baseline": "middle", "dy": 5, "color": "black"},
              "encoding": {"x": {"datum": 1.52, "axis": null}, "y": {"field": "v", "type": "quantitative", "axis": null}, "text": {"field": "t"}}
            },
            {
              "data": {"name": "levels"},
              "transform": [{"filter": "datum.v < 0"}],
              "mark": {"type": "text", "font": "Liberation Serif", "fontSize": 25, "align": "left", "baseline": "middle", "dy": 5, "color": "black"},
              "encoding": {"x": {"datum": 1.3, "axis": null}, "y": {"field": "v", "type": "quantitative", "axis": null}, "text": {"field": "t"}}
            }
          ]
        }
      ]
    }
  ],
  "config": {
    "view": {"stroke": null},
    "axis": {
      "grid": false,
      "ticks": false,
      "domain": false,
      "labelFont": "Liberation Serif",
      "labelFontSize": 46,
      "labelColor": "black",
      "labelFlush": false,
      "labelOverlap": false,
      "labelBound": false,
      "titleFont": "Liberation Serif",
      "titleFontStyle": "italic",
      "titleFontWeight": "normal",
      "titleFontSize": 46,
      "titleColor": "#333333"
    },
    "axisX": {"labelPadding": 6, "titlePadding": -7},
    "axisY": {"labelPadding": 12, "titlePadding": -2}
  }
}
